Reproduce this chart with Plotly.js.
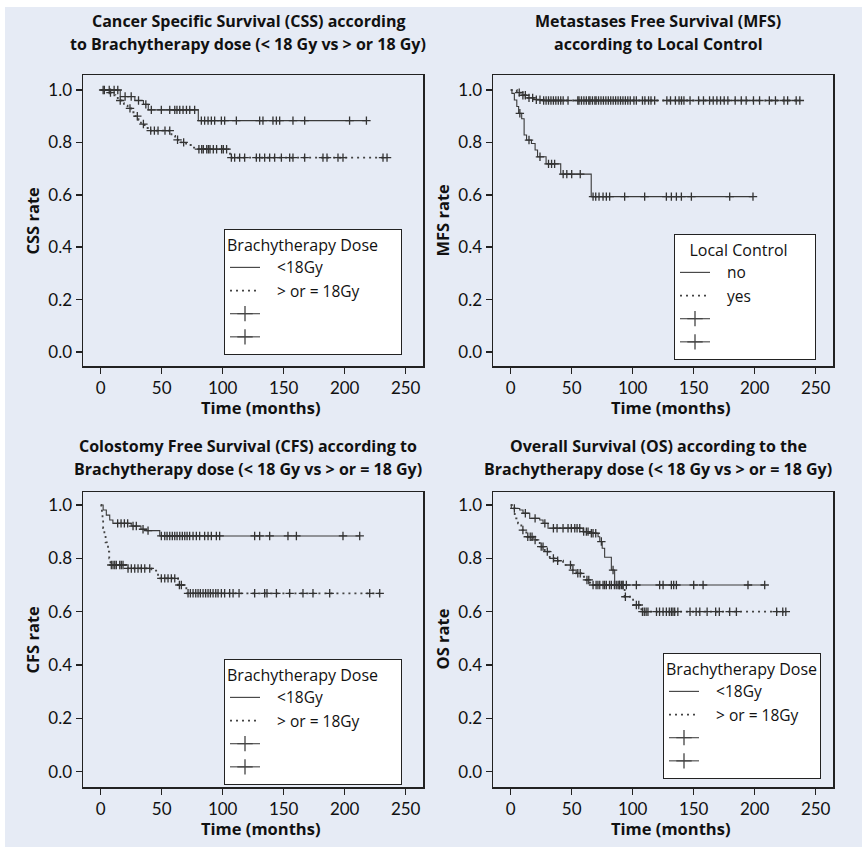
<!DOCTYPE html>
<html>
<head>
<meta charset="utf-8">
<script src="https://cdn.plot.ly/plotly-3.0.1.min.js"></script>
<style>html,body{margin:0;padding:0;background:#fff;}#chart{width:862px;height:847px;}</style>
</head>
<body>
<div id="chart"></div>
<script>
// ---------- DATA ----------
// Panel 1: Cancer Specific Survival by brachytherapy dose
const cssLowTimes = [16, 28, 35, 39, 80];
const cssLowSurv = [0.975, 0.96, 0.945, 0.924, 0.883];
const cssLowCensor = [2, 7, 11, 14, 20, 25, 31, 37, 41.5, 49.7, 56.6, 60.7, 62.5, 64.8, 67.5, 70.3, 73, 77, 82.5, 85.2, 88, 90.7, 93.4, 98.9, 101.6, 111.2, 130.3, 133, 141.2, 144, 146.7, 157.6, 167.2, 204, 217.8];
const cssHighTimes = [6, 9, 12, 14, 17, 19, 22, 25, 28, 31, 33, 36, 40, 58, 61, 65, 70, 75, 79, 106];
const cssHighSurv = [0.99, 0.98, 0.97, 0.96, 0.95, 0.94, 0.93, 0.915, 0.9, 0.885, 0.87, 0.855, 0.845, 0.825, 0.81, 0.8, 0.79, 0.78, 0.774, 0.742];
const cssHighCensor = [3, 8, 16, 24, 30, 35, 41, 44, 47, 52.7, 56.6, 63, 68, 80.5, 82.8, 84.1, 86.9, 88.3, 89.6, 92.3, 95, 99.1, 100.5, 103.2, 107.1, 109.8, 113.9, 118, 127.6, 130.3, 134.4, 138.5, 142.6, 148.1, 154.9, 157.6, 167.2, 182.2, 185.5, 194.5, 198.6, 231.4, 234.7];

// Panel 2: Metastases Free Survival by local control
const mfsNoTimes = [1, 3, 5, 6.5, 9, 11, 13, 17, 20, 22, 29, 41, 66];
const mfsNoSurv = [0.987, 0.962, 0.937, 0.911, 0.89, 0.828, 0.809, 0.796, 0.771, 0.745, 0.718, 0.679, 0.593];
const mfsNoCensor = [7.5, 15, 24, 31, 33.5, 36, 43, 46, 50, 57, 67.5, 69.7, 72.4, 75.7, 78.4, 81.1, 93.4, 109.8, 127.6, 131.7, 135.8, 139.9, 148.1, 179.5, 198.6];
const mfsYesTimes = [5, 9, 13, 20, 27];
const mfsYesSurv = [0.99, 0.98, 0.97, 0.963, 0.96];
const mfsYesCensor = [7, 10, 12, 15, 18, 21, 24, 27, 29, 31, 33, 35, 37, 39, 41, 43, 47, 55, 56, 58, 60, 62, 64, 65, 67, 69, 70, 72, 74, 76, 78, 80, 82, 84, 86, 88, 90, 92, 94, 96, 98, 101, 103, 108, 110, 113, 115, 118, 128, 131, 135, 138, 140, 142, 147, 154, 158, 163, 166, 169, 172, 175, 178, 184, 189, 193, 199, 204, 212, 217, 224, 227, 234, 237];

// Panel 3: Colostomy Free Survival by brachytherapy dose
const cfsLowTimes = [2, 4.6, 7.4, 10, 25, 33, 37.4, 48.4];
const cfsLowSurv = [0.981, 0.962, 0.944, 0.931, 0.921, 0.909, 0.904, 0.884];
const cfsLowCensor = [13.9, 16.7, 19.4, 22.1, 26.5, 29.2, 34.7, 38.8, 49.7, 52.5, 54.4, 56.6, 58.7, 60.7, 62.6, 64.8, 66.9, 68.9, 70.8, 72.9, 75.7, 78.4, 81.1, 85.2, 88, 90.7, 94.8, 97.5, 126.2, 130.3, 138.5, 153.5, 160.4, 198.6, 212.3];
const cfsHighTimes = [0.5, 1, 1.5, 2, 3, 4, 5, 6, 7, 8, 21, 41.5, 47, 63.4, 70.2];
const cfsHighSurv = [0.987, 0.969, 0.944, 0.913, 0.887, 0.86, 0.844, 0.825, 0.8, 0.775, 0.762, 0.754, 0.725, 0.7, 0.669];
const cfsHighCensor = [8.7, 10.1, 11.5, 12.8, 15.6, 16.9, 18.3, 22.4, 25.1, 27.9, 30.6, 33.3, 36.1, 40.2, 49.7, 52.5, 55.2, 57.9, 60.7, 64.5, 66.1, 71.6, 73.5, 75.7, 77.9, 79.8, 81.7, 83.9, 86, 88, 89.9, 92.1, 94.3, 96.2, 98.9, 101.6, 105.7, 108.5, 113.4, 126.2, 134.4, 136.3, 144, 154.9, 165.8, 174, 187.7, 220.5, 228.7];

// Panel 4: Overall Survival by brachytherapy dose
const osLowTimes = [0.5, 7.4, 10.1, 15.6, 23.8, 26.5, 30.6, 59.3, 64.8, 71.6, 73, 75, 77, 82.5, 85.2];
const osLowSurv = [0.987, 0.981, 0.969, 0.95, 0.944, 0.931, 0.913, 0.9, 0.894, 0.881, 0.863, 0.838, 0.804, 0.756, 0.7];
const osLowCensor = [3, 12, 20, 28, 35, 38, 42.9, 47, 49.7, 52.5, 54.4, 56.6, 59.8, 62, 63.4, 66.1, 67.5, 69.7, 74.3, 83.9, 88, 89.3, 90.7, 92.1, 94.8, 103, 122.1, 124.9, 131.7, 133.6, 135.8, 150, 157.7, 194.5, 208.2];
const osHighTimes = [2, 3.3, 4.5, 6, 8.7, 12.8, 18.3, 23.8, 27.9, 32, 37.4, 42.9, 49.7, 53.8, 57.9, 62, 64.8, 67.5, 93.4, 100.3, 107.1];
const osHighSurv = [0.987, 0.962, 0.95, 0.931, 0.906, 0.881, 0.869, 0.844, 0.825, 0.8, 0.791, 0.775, 0.756, 0.744, 0.731, 0.719, 0.709, 0.7, 0.656, 0.625, 0.6];
const osHighCensor = [10, 14, 16, 17.5, 20, 25, 26.5, 30, 35, 38.5, 49, 51, 55, 57, 62.5, 64, 67.5, 70, 71.5, 73, 75.7, 77, 78.4, 81, 82.5, 85, 86.5, 89, 92, 94, 103, 105, 108, 109.5, 111, 112.5, 119.5, 122, 124.9, 127.6, 130, 131.7, 133, 134.4, 137, 147, 152, 155, 161, 168, 171, 179.5, 185, 218, 223, 225.5];

// Labels
const panelTitles = [
  ["Cancer Specific Survival (CSS) according", "to Brachytherapy dose (< 18 Gy vs > or 18 Gy)"],
  ["Metastases Free Survival (MFS)", "according to Local Control"],
  ["Colostomy Free Survival (CFS) according to", "Brachytherapy dose (< 18 Gy vs > or = 18 Gy)"],
  ["Overall Survival (OS) according to the", "Brachytherapy dose (< 18 Gy vs > or = 18 Gy)"]
];
const yTitles = ["CSS rate", "MFS rate", "CFS rate", "OS rate"];
const xTitle = "Time (months)";
const legendTitles = ["Brachytherapy Dose", "Local Control", "Brachytherapy Dose", "Brachytherapy Dose"];
const groupNames = [["<18Gy", "> or = 18Gy"], ["no", "yes"], ["<18Gy", "> or = 18Gy"], ["<18Gy", "> or = 18Gy"]];
const xTicks = [0, 50, 100, 150, 200, 250];
const yTicks = [0, 0.2, 0.4, 0.6, 0.8, 1.0];

// ---------- helpers ----------
const NB = n => '\u00a0'.repeat(n);
function survAt(times, surv, t) {
  let s = 1;
  for (let i = 0; i < times.length; i++) if (times[i] <= t) s = surv[i];
  return s;
}
function stepTrace(times, surv, censor, lineStyle, name, ax, leg) {
  const end = Math.max(...censor, ...times);
  const x = [0].concat(times, [end]);
  const y = [1].concat(surv, [surv[surv.length - 1]]);
  return {x: x, y: y, mode: 'lines', line: Object.assign({shape: 'hv'}, lineStyle), name: NB(3) + name,
    xaxis: 'x' + ax, yaxis: 'y' + ax, legend: leg, hoverinfo: 'skip'};
}
function censorTrace(times, surv, censor, ax, leg) {
  return {x: censor, y: censor.map(t => survAt(times, surv, t)), mode: 'markers',
    marker: {symbol: 'cross-thin', size: 6, line: {width: 1.3, color: '#333'}, color: '#333'},
    showlegend: false, xaxis: 'x' + ax, yaxis: 'y' + ax, legend: leg, hoverinfo: 'skip'};
}
function legendDummy(ax, leg) {
  return {x: [null], y: [null], mode: 'lines+markers', name: ' ',
    line: {color: '#555', width: 1.2},
    marker: {symbol: 'cross-thin', size: 11, line: {width: 1.3, color: '#444'}},
    xaxis: 'x' + ax, yaxis: 'y' + ax, legend: leg, hoverinfo: 'skip'};
}

const solid = {color: '#3a3a3a', width: 1.1};
const dotted = {color: '#444', width: 1.8, dash: '2px,4px'};

const panels = [
  [cssLowTimes, cssLowSurv, cssLowCensor, cssHighTimes, cssHighSurv, cssHighCensor],
  [mfsNoTimes, mfsNoSurv, mfsNoCensor, mfsYesTimes, mfsYesSurv, mfsYesCensor],
  [cfsLowTimes, cfsLowSurv, cfsLowCensor, cfsHighTimes, cfsHighSurv, cfsHighCensor],
  [osLowTimes, osLowSurv, osLowCensor, osHighTimes, osHighSurv, osHighCensor]
];

const traces = [];
panels.forEach((p, i) => {
  const ax = i === 0 ? '' : String(i + 1);
  const leg = i === 0 ? 'legend' : 'legend' + (i + 1);
  traces.push(stepTrace(p[0], p[1], p[2], solid, groupNames[i][0], ax, leg));
  traces.push(stepTrace(p[3], p[4], p[5], dotted, groupNames[i][1], ax, leg));
  traces.push(legendDummy(ax, leg));
  traces.push(legendDummy(ax, leg));
  traces.push(censorTrace(p[0], p[1], p[2], ax, leg));
  traces.push(censorTrace(p[3], p[4], p[5], ax, leg));
});

// ---------- layout (pixel geometry) ----------
const W = 862, H = 847;
const fx = px => px / W;
const fy = py => 1 - py / H;
const boxes = [
  {l: 83, r: 423, t: 75, b: 366, y1: 90, y0: 352},
  {l: 493, r: 833, t: 75, b: 366, y1: 90, y0: 352},
  {l: 83, r: 423, t: 492, b: 787, y1: 505, y0: 771.7},
  {l: 493, r: 833, t: 492, b: 787, y1: 505, y0: 771.7}
];
const TICKFONT = 'Lato, "Open Sans", sans-serif';
const FONT = '"Open Sans", Lato, sans-serif';
const layout = {
  width: W, height: H, margin: {l: 0, r: 0, t: 0, b: 0},
  paper_bgcolor: '#e6ebf5', plot_bgcolor: '#e6ebf5',
  font: {family: FONT, color: '#111', size: 16},
  annotations: [], shapes: [
    {type: 'rect', xref: 'paper', yref: 'paper', x0: 0, x1: fx(5), y0: 0, y1: 1, fillcolor: '#fff', line: {width: 0}, layer: 'below'},
    {type: 'rect', xref: 'paper', yref: 'paper', x0: 0, x1: 1, y0: fy(7), y1: 1, fillcolor: '#fff', line: {width: 0}, layer: 'below'}
  ]
};
// legend: left edge, vertical centre (px), title padding (leading, trailing nbsp)
const legendPos = [[224, 292, 0, 5], [674, 297, 3, 6], [224, 722, 0, 5], [663, 716, 0, 0]];
boxes.forEach((b, i) => {
  const ax = i === 0 ? '' : String(i + 1);
  const pxPerUnitX = (405.7 - 100.7) / 250;
  const xr = [-17.7 / pxPerUnitX, (b.r - b.l - 17.7) / pxPerUnitX];
  const ppu = b.y0 - b.y1;
  const yr = [(b.y0 - b.b) / ppu, (b.y0 - b.t) / ppu];
  const common = {showline: true, linecolor: '#222', linewidth: 1.5, mirror: true,
    ticks: 'outside', ticklen: 6, tickwidth: 1.5, tickcolor: '#222', showgrid: false, zeroline: false,
    tickfont: {family: TICKFONT, size: 17, color: '#111'}, automargin: false, fixedrange: true};
  layout['xaxis' + ax] = Object.assign({}, common, {domain: [fx(b.l), fx(b.r)], range: xr,
    tickvals: xTicks, anchor: 'y' + ax});
  layout['yaxis' + ax] = Object.assign({}, common, {domain: [fy(b.b), fy(b.t)], range: yr,
    tickvals: yTicks, tickformat: '.1f', anchor: 'x' + ax});
  // titles
  const cx = (b.l + b.r) / 2 - 5;
  const tY = i < 2 ? [21, 44] : [446, 469];
  panelTitles[i].forEach((txt, k) => layout.annotations.push({text: '<b>' + txt + '</b>', xref: 'paper', yref: 'paper',
    x: fx(cx), y: fy(tY[k]), xanchor: 'center', yanchor: 'middle', showarrow: false, font: {family: FONT, size: 16, color: '#111'}}));
  layout.annotations.push({text: '<b>' + xTitle + '</b>', xref: 'paper', yref: 'paper', x: fx((b.l + b.r) / 2 + 7),
    y: fy(b.b + 41), xanchor: 'center', yanchor: 'middle', showarrow: false, font: {family: FONT, size: 16.5, color: '#111'}});
  layout.annotations.push({text: '<b>' + yTitles[i] + '</b>', xref: 'paper', yref: 'paper', x: fx(b.l - 51),
    y: fy((b.t + b.b) / 2), xanchor: 'center', yanchor: 'middle', textangle: -90, showarrow: false, font: {family: FONT, size: 16.5, color: '#111'}});
  const leg = i === 0 ? 'legend' : 'legend' + (i + 1);
  const lp = legendPos[i];
  layout[leg] = {x: fx(lp[0]), y: fy(lp[1]), xanchor: 'left', yanchor: 'middle',
    bgcolor: '#fff', bordercolor: '#222', borderwidth: 1, itemwidth: 30, traceorder: 'normal',
    font: {family: FONT, size: 15.5, color: '#111'},
    title: {text: NB(lp[2]) + legendTitles[i] + NB(lp[3]), font: {family: FONT, size: 16, color: '#111'}}};
});

Plotly.newPlot('chart', traces, layout, {staticPlot: true, displayModeBar: false});
</script>
</body>
</html>
